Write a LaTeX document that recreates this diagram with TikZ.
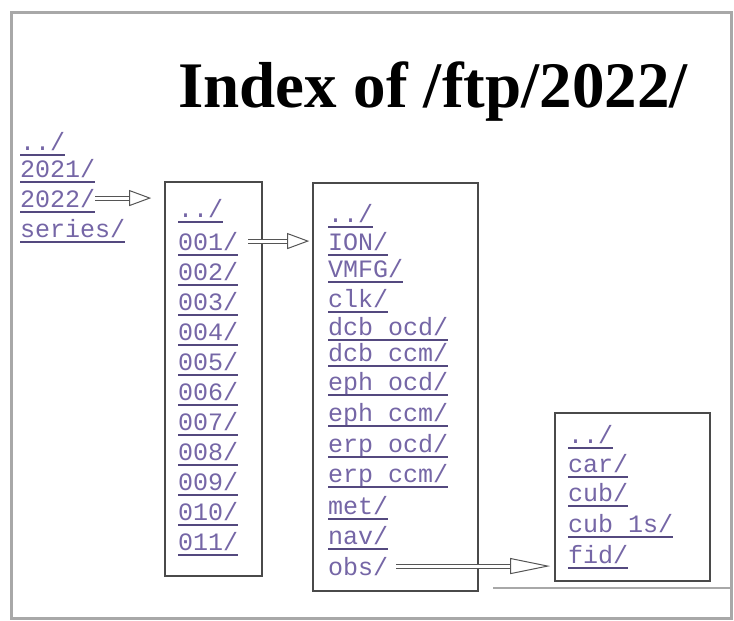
\documentclass[tikz,border=0pt]{standalone}
\usepackage{fontspec}
\setmonofont{Liberation Mono}
\newfontfamily\headfont{Liberation Serif}
\usetikzlibrary{arrows.meta,positioning,calc}
\definecolor{framegray}{HTML}{A8A8A8}
\definecolor{boxline}{HTML}{4A4A4A}
\definecolor{linktext}{HTML}{7566A6}
\definecolor{linkline}{HTML}{54497F}
\definecolor{arrowc}{HTML}{555555}
\newcommand\linkfont{\ttfamily\fontsize{25}{28}\selectfont}
\newcommand\titlefont{\headfont\bfseries\fontsize{65}{72}\selectfont}

\begin{document}
\begin{tikzpicture}[x=1pt,y=-1pt,
  plain/.style={font=\linkfont,text=linktext,anchor=base west,inner sep=0pt},
  lnk/.style={plain,
    append after command={([yshift=-5pt]\tikzlastnode.base west) edge[draw=linkline,line width=1.6pt] ([yshift=-5pt]\tikzlastnode.base east)}},
  box/.style={draw=boxline,line width=1.6pt,fill=white,inner sep=0pt},
  hollow/.style={draw=arrowc,line width=1pt,double=white,double distance=3pt,
    -{Triangle[open,length=22pt,width=16pt]}}]
\useasboundingbox (0,0) rectangle (734,621);
% page frame
\draw[framegray,line width=3pt] (11,12) rectangle (731,618);
% heading
\node[font=\titlefont,anchor=base,inner sep=0pt] (title) at (433,107) {Index of /ftp/2022/};
% left listing
\foreach \nm/\yy/\txt in {yup/150/.., y2021/177/2021, y2022/207/2022, yser/237/series}
  \node[lnk] (\nm) at (20,\yy) {\txt/};
% box 1
\node[box,minimum width=97pt,minimum height=394pt] (box1) at (213.5,379) {};
\node[lnk] (aup) at (178,217) {../};
\foreach \n [count=\i from 0] in {001,002,003,004,005,006,007,008,009,010,011}
  \node[lnk] (d\n) at (178,{250+30*\i}) {\n/};
% box 2
\node[box,minimum width=165pt,minimum height=408pt] (box2) at (395.5,387) {};
\foreach \nm/\yy/\txt in {bup/222/.., ion/250/ION, vmfg/277/VMFG, clk/307/clk,
    dcbo/335/dcb ocd, dcbc/361/dcb ccm, epho/390/eph ocd, ephc/421/eph ccm,
    erpo/452/erp ocd, erpc/482/erp ccm, met/514/met, nav/544/nav}
  \node[lnk] (\nm) at (328,\yy) {\txt/};
\node[plain] (obs) at (328,575) {obs/};
% box 3
\node[box,minimum width=155pt,minimum height=168pt] (box3) at (632.5,497) {};
\foreach \nm/\yy/\txt in {cup/443/.., car/472/car, cub/501/cub, cubs/532/cub 1s, fid/563/fid}
  \node[lnk] (\nm) at (568,\yy) {\txt/};
\draw[framegray,line width=2pt] (493,588) -- (730,588);
% links between listings
\draw[hollow,shorten >=13pt] (y2022.east) -- (y2022.east -| box1.west);
\draw[hollow,shorten <=10pt,shorten >=3pt] (d001.east) -- (d001.east -| box2.west);
\draw[hollow,-{Triangle[open,length=40pt,width=16pt]},shorten <=8pt,shorten >=4pt]
  (obs.east) -- (obs.east -| box3.west);
\end{tikzpicture}
\end{document}
